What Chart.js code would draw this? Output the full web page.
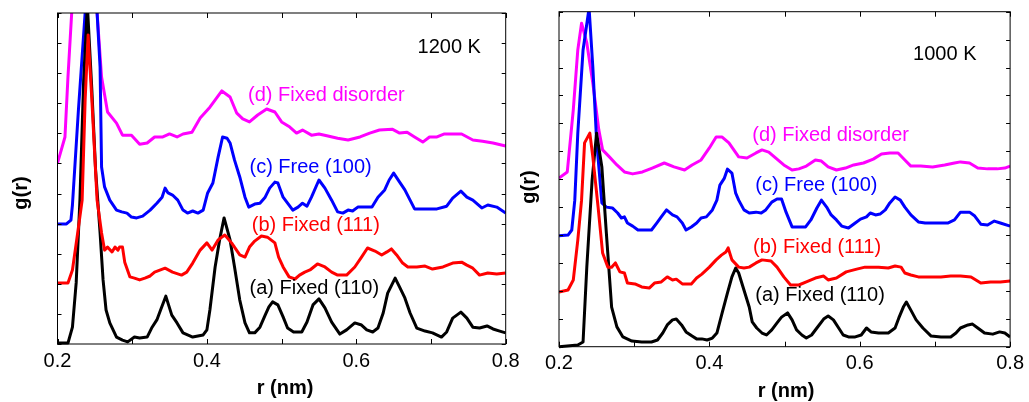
<!DOCTYPE html>
<html>
<head>
<meta charset="utf-8">
<script src="https://cdn.jsdelivr.net/npm/chart.js@4.4.1/dist/chart.umd.min.js"></script>
<style>
  html, body { margin: 0; padding: 0; background: #fff; }
  body { width: 1029px; height: 402px; position: relative; overflow: hidden; }
  .panel { position: absolute; top: 0; }
  #p1200 { left: 0; }
  #p1000 { left: 500px; }
</style>
</head>
<body>
<div class="panel" id="p1200"><canvas id="chart1200" width="530" height="402"></canvas></div>
<div class="panel" id="p1000"><canvas id="chart1000" width="529" height="402"></canvas></div>
<script>
// ---- 1200 K : r (nm) and offset g(r) for each curve ----
const r1200a = [0.200,0.214,0.220,0.225,0.230,0.235,0.240,0.246,0.251,0.257,0.261,0.265,0.270,0.279,0.287,0.294,0.303,0.310,0.320,0.326,0.333,0.338,0.345,0.353,0.360,0.368,0.381,0.395,0.400,0.404,0.411,0.417,0.423,0.431,0.437,0.444,0.451,0.457,0.464,0.471,0.478,0.483,0.488,0.495,0.502,0.508,0.516,0.527,0.534,0.542,0.550,0.558,0.567,0.578,0.587,0.598,0.607,0.614,0.622,0.629,0.636,0.642,0.652,0.658,0.665,0.672,0.681,0.692,0.702,0.714,0.721,0.729,0.740,0.748,0.756,0.765,0.775,0.783,0.792,0.800];
const g1200a = [0.03,0.03,0.56,2.03,4.78,8.77,11.26,8.44,5.78,3.69,2.13,1.13,0.70,0.23,0.13,0.07,0.23,0.20,0.23,0.53,0.80,1.13,1.59,0.96,0.70,0.37,0.23,0.30,0.47,1.13,2.56,3.46,4.19,3.46,2.56,1.46,0.70,0.37,0.37,0.56,0.96,1.23,1.40,1.30,0.90,0.53,0.40,0.40,0.73,1.30,1.50,1.20,0.73,0.33,0.47,0.70,0.63,0.47,0.40,0.53,1.03,1.69,2.19,1.89,1.53,1.03,0.53,0.43,0.37,0.23,0.40,0.86,1.06,0.86,0.56,0.53,0.60,0.50,0.43,0.37];

const r1200b = [0.200,0.214,0.220,0.227,0.233,0.237,0.241,0.246,0.253,0.259,0.263,0.267,0.273,0.277,0.281,0.283,0.287,0.290,0.297,0.303,0.310,0.317,0.324,0.330,0.344,0.354,0.366,0.373,0.381,0.391,0.400,0.407,0.415,0.424,0.433,0.444,0.451,0.457,0.464,0.473,0.481,0.491,0.496,0.502,0.510,0.518,0.524,0.531,0.538,0.548,0.558,0.567,0.575,0.587,0.598,0.607,0.615,0.625,0.634,0.641,0.647,0.654,0.662,0.669,0.681,0.692,0.702,0.716,0.729,0.741,0.748,0.756,0.765,0.776,0.788,0.800];
const g1200b = [2.03,2.03,2.46,3.69,4.78,8.11,10.27,8.11,4.78,3.69,3.12,3.22,3.06,3.22,3.12,3.22,3.22,2.72,2.23,2.19,2.13,2.19,2.26,2.39,2.52,2.39,2.29,2.39,2.69,3.12,3.36,3.12,3.46,3.62,3.36,2.96,2.89,3.22,3.42,3.59,3.55,3.36,2.89,2.56,2.23,2.16,2.29,2.39,2.46,2.66,2.56,2.39,2.29,2.29,2.56,2.89,3.19,3.09,2.96,3.06,3.16,2.96,2.69,2.56,2.56,2.59,2.49,2.56,2.69,2.72,2.62,2.52,2.29,2.36,2.33,2.36];

const r1200c = [0.200,0.212,0.218,0.220,0.228,0.237,0.245,0.253,0.257,0.259,0.263,0.270,0.279,0.286,0.293,0.299,0.306,0.314,0.324,0.333,0.340,0.344,0.348,0.354,0.361,0.368,0.374,0.381,0.388,0.395,0.401,0.408,0.415,0.421,0.427,0.431,0.437,0.444,0.451,0.456,0.464,0.471,0.478,0.484,0.491,0.495,0.502,0.508,0.515,0.522,0.528,0.534,0.540,0.550,0.558,0.567,0.575,0.582,0.589,0.595,0.602,0.611,0.621,0.629,0.638,0.644,0.650,0.658,0.665,0.672,0.678,0.698,0.708,0.721,0.729,0.740,0.748,0.756,0.768,0.776,0.788,0.800];
const g1200c = [3.99,3.99,4.12,4.62,7.77,11.0,14.09,11.0,9.20,5.88,5.22,4.78,4.45,4.39,4.35,4.22,4.19,4.25,4.45,4.68,4.88,5.18,5.02,4.95,4.78,4.45,4.35,4.42,4.35,4.45,5.02,5.35,6.21,6.88,6.84,6.68,6.11,5.55,4.88,4.55,4.65,4.68,4.88,5.18,5.38,5.35,4.88,4.68,4.45,4.55,4.68,4.58,4.88,5.45,5.18,4.78,4.39,4.35,4.45,4.42,4.55,4.55,4.55,4.88,5.12,5.45,5.68,5.38,5.12,4.78,4.49,4.49,4.49,4.58,4.85,5.08,4.88,4.78,4.52,4.62,4.55,4.35];

const r1200d = [0.200,0.210,0.214,0.219,0.237,0.253,0.259,0.267,0.279,0.287,0.299,0.310,0.320,0.330,0.341,0.350,0.360,0.368,0.380,0.391,0.404,0.420,0.431,0.440,0.448,0.457,0.468,0.480,0.491,0.500,0.511,0.520,0.528,0.540,0.550,0.562,0.575,0.589,0.605,0.618,0.631,0.648,0.658,0.668,0.678,0.689,0.698,0.708,0.718,0.729,0.741,0.756,0.769,0.783,0.800];
const g1200d = [6.01,6.88,8.87,11.0,16.41,11.0,8.87,7.71,7.34,6.94,6.94,6.64,6.68,6.88,6.88,6.98,6.88,6.98,7.04,7.51,7.87,8.41,8.21,7.67,7.48,7.38,7.61,7.81,7.71,7.38,7.21,7.01,7.11,6.94,6.98,6.91,6.84,6.78,6.88,7.01,7.11,7.14,7.01,7.04,6.88,6.71,6.88,6.88,6.98,6.98,6.98,6.78,6.74,6.68,6.58];

// ---- 1000 K ----
const r1000a = [0.200,0.225,0.232,0.237,0.244,0.250,0.257,0.263,0.270,0.277,0.285,0.297,0.310,0.323,0.331,0.338,0.344,0.351,0.356,0.363,0.369,0.377,0.383,0.390,0.397,0.404,0.410,0.417,0.424,0.430,0.435,0.439,0.446,0.453,0.457,0.463,0.470,0.476,0.483,0.490,0.496,0.504,0.510,0.516,0.523,0.529,0.536,0.543,0.552,0.558,0.565,0.572,0.578,0.585,0.594,0.602,0.609,0.615,0.625,0.638,0.647,0.652,0.658,0.662,0.668,0.675,0.684,0.695,0.708,0.721,0.728,0.734,0.744,0.750,0.757,0.766,0.777,0.786,0.793,0.800];
const g1000a = [0.00,0.06,0.17,2.86,5.96,7.65,6.44,4.07,1.42,0.71,0.35,0.20,0.17,0.17,0.24,0.49,0.78,0.96,0.99,0.78,0.53,0.38,0.28,0.28,0.24,0.31,0.49,1.21,1.92,2.50,2.82,2.64,2.03,1.42,0.89,0.67,0.49,0.42,0.60,0.85,1.06,1.21,0.96,0.60,0.42,0.31,0.42,0.67,0.99,1.10,0.96,0.67,0.42,0.35,0.35,0.42,0.67,0.53,0.49,0.49,0.67,1.03,1.42,1.60,1.31,0.96,0.67,0.38,0.35,0.35,0.49,0.67,0.78,0.81,0.67,0.49,0.45,0.53,0.49,0.35];

const r1000b = [0.200,0.212,0.219,0.225,0.230,0.234,0.241,0.245,0.252,0.258,0.265,0.270,0.275,0.281,0.287,0.291,0.301,0.310,0.320,0.327,0.336,0.344,0.351,0.356,0.364,0.376,0.383,0.390,0.400,0.409,0.416,0.422,0.425,0.430,0.439,0.446,0.453,0.462,0.470,0.482,0.490,0.499,0.508,0.519,0.529,0.541,0.552,0.558,0.569,0.582,0.596,0.607,0.615,0.625,0.638,0.647,0.655,0.660,0.668,0.678,0.695,0.708,0.721,0.734,0.748,0.761,0.774,0.787,0.800];
const g1000b = [1.96,2.03,2.39,3.82,5.25,7.30,7.65,6.80,5.00,3.36,2.85,2.85,3.00,2.68,2.64,2.28,2.25,2.14,2.10,2.28,2.32,2.50,2.39,2.42,2.25,2.25,2.46,2.60,2.85,3.11,3.28,3.39,3.54,3.11,2.85,2.82,2.85,3.00,3.11,3.07,2.85,2.50,2.21,2.21,2.32,2.46,2.53,2.39,2.46,2.68,2.78,2.85,2.85,2.85,2.82,2.89,2.85,2.64,2.57,2.50,2.50,2.50,2.53,2.53,2.50,2.28,2.32,2.32,2.35];

const r1000c = [0.200,0.212,0.217,0.221,0.225,0.232,0.240,0.245,0.250,0.257,0.263,0.271,0.278,0.283,0.287,0.291,0.298,0.305,0.314,0.323,0.330,0.336,0.343,0.351,0.357,0.364,0.369,0.376,0.383,0.389,0.396,0.404,0.410,0.414,0.420,0.424,0.430,0.435,0.439,0.446,0.453,0.462,0.469,0.475,0.483,0.490,0.496,0.502,0.510,0.519,0.528,0.535,0.543,0.549,0.556,0.562,0.569,0.576,0.585,0.594,0.601,0.609,0.614,0.621,0.627,0.634,0.640,0.647,0.654,0.660,0.668,0.678,0.687,0.704,0.717,0.726,0.734,0.746,0.753,0.761,0.770,0.779,0.787,0.800];
const g1000c = [3.97,4.00,4.18,5.25,7.65,10.63,12.13,10.02,7.40,5.15,5.00,4.97,4.79,4.61,4.65,4.43,4.32,4.18,4.18,4.18,4.43,4.65,4.90,4.72,4.65,4.43,4.18,4.29,4.43,4.61,4.65,4.90,5.25,5.79,6.04,6.36,6.22,5.50,5.25,4.90,4.79,4.82,4.79,4.90,5.18,5.29,5.29,4.82,4.29,4.29,4.29,4.54,4.97,5.25,5.00,4.72,4.54,4.32,4.25,4.43,4.57,4.65,4.79,4.72,4.75,4.90,5.15,5.36,5.25,5.00,4.72,4.47,4.43,4.43,4.43,4.54,4.82,4.82,4.68,4.39,4.36,4.50,4.43,4.32];

const r1000d = [0.200,0.211,0.219,0.225,0.230,0.237,0.245,0.253,0.258,0.267,0.277,0.287,0.298,0.311,0.324,0.340,0.353,0.367,0.377,0.389,0.400,0.409,0.417,0.426,0.439,0.450,0.462,0.470,0.479,0.488,0.499,0.510,0.519,0.529,0.541,0.549,0.558,0.569,0.581,0.592,0.605,0.618,0.629,0.640,0.651,0.660,0.668,0.681,0.697,0.713,0.726,0.734,0.746,0.757,0.770,0.783,0.793,0.800];
const g1000d = [6.04,6.26,8.48,10.63,11.59,10.88,9.44,7.76,7.05,6.80,6.51,6.26,6.19,6.26,6.40,6.58,6.44,6.33,6.51,6.69,7.12,7.51,7.51,7.30,6.80,6.76,6.94,7.05,6.97,6.76,6.51,6.33,6.37,6.47,6.69,6.65,6.44,6.33,6.40,6.51,6.58,6.72,6.90,6.94,6.94,6.69,6.47,6.47,6.44,6.51,6.58,6.62,6.58,6.40,6.37,6.37,6.40,6.47];

const rTicks = { min: 0.2, max: 0.8, step: 0.1 };

const labels = {
  a: '(a) Fixed (110)',
  b: '(b) Fixed (111)',
  c: 'Free (100)',
  d: '(d) Fixed disorder'
};
const colors = { a: '#000000', b: '#ff0000', c: '#0000ff', d: '#ff00ff' };

const FONT = '"Liberation Sans", Arial, Helvetica, sans-serif';

const pts = (rs, gs) => rs.map((r, i) => ({ x: r, y: gs[i] }));

// frame, inward ticks, curve labels and axis titles
const panelDecor = {
  id: 'panelDecor',
  afterDatasetsDraw(chart, args, opts) {
    const { ctx, chartArea: area, scales } = chart;
    const xs = scales.x, ys = scales.y;
    ctx.save();
    ctx.strokeStyle = '#000';
    ctx.lineWidth = 1;
    ctx.strokeRect(area.left, area.top, area.right - area.left, area.bottom - area.top);
    ctx.beginPath();
    xs.ticks.forEach(t => {
      const px = Math.round(xs.getPixelForValue(t.value)) + 0.5;
      ctx.moveTo(px, area.bottom); ctx.lineTo(px, area.bottom - 5);
      ctx.moveTo(px, area.top); ctx.lineTo(px, area.top + 5);
    });
    ys.ticks.forEach(t => {
      const py = Math.round(ys.getPixelForValue(t.value)) + 0.5;
      ctx.moveTo(area.left, py); ctx.lineTo(area.left + 4, py);
      ctx.moveTo(area.right, py); ctx.lineTo(area.right - 4, py);
    });
    ctx.stroke();

    ctx.font = '20px ' + FONT;
    ctx.textAlign = 'left';
    ctx.textBaseline = 'middle';
    opts.notes.forEach(n => {
      ctx.fillStyle = n.color;
      ctx.fillText(n.text, xs.getPixelForValue(n.r), ys.getPixelForValue(n.g));
    });

    ctx.fillStyle = '#000';
    ctx.font = 'bold 20px ' + FONT;
    ctx.textAlign = 'center';
    ctx.fillText('r (nm)', opts.xTitle[0], opts.xTitle[1]);
    ctx.translate(opts.yTitle[0], opts.yTitle[1]);
    ctx.rotate(-Math.PI / 2);
    ctx.fillText('g(r)', 0, 0);
    ctx.restore();
  }
};

function makePanel(id, series, gMax, box, notes, xTitle, yTitle) {
  const order = ['b', 'a', 'c', 'd'];
  return new Chart(document.getElementById(id), {
    type: 'line',
    data: {
      datasets: order.map(k => ({
        label: labels[k],
        data: pts(series[k][0], series[k][1]),
        borderColor: colors[k],
        borderWidth: 3,
        borderJoinStyle: 'round',
        pointRadius: 0,
        tension: 0,
        fill: false,
        clip: { left: 0, top: 0, right: 0, bottom: 3 }
      }))
    },
    options: {
      responsive: false,
      animation: false,
      events: [],
      layout: { padding: { top: box.top, right: box.right, bottom: 0, left: 0 } },
      plugins: {
        legend: { display: false },
        tooltip: { enabled: false },
        panelDecor: { notes, xTitle, yTitle }
      },
      scales: {
        x: {
          type: 'linear',
          min: rTicks.min,
          max: rTicks.max,
          grid: { display: false, drawTicks: false },
          border: { display: false },
          ticks: {
            stepSize: rTicks.step,
            autoSkip: false,
            maxRotation: 0,
            padding: 5,
            color: '#000',
            font: { family: FONT, size: 20 },
            callback: v => (Math.round(v * 10) % 2 === 0 ? v.toFixed(1) : '')
          },
          afterFit: s => { s.height = box.xHeight; }
        },
        y: {
          type: 'linear',
          min: 0,
          max: gMax,
          grid: { display: false, drawTicks: false },
          border: { display: false },
          ticks: { display: false, stepSize: 1 },
          afterFit: s => { s.width = box.yWidth; }
        }
      }
    },
    plugins: [panelDecor]
  });
}

makePanel('chart1200',
  { a: [r1200a, g1200a], b: [r1200b, g1200b], c: [r1200c, g1200c], d: [r1200d, g1200d] },
  11,
  { top: 13, right: 24.3, xHeight: 58, yWidth: 57.5 },
  [
    { text: '1200 K', r: 0.682, g: 9.85, color: '#000' },
    { text: labels.d, r: 0.455, g: 8.27, color: colors.d },
    { text: '(c) ' + labels.c, r: 0.457, g: 5.85, color: colors.c },
    { text: labels.b, r: 0.460, g: 3.95, color: colors.b },
    { text: labels.a, r: 0.457, g: 1.83, color: colors.a }
  ],
  [285, 388], [21.5, 193]);

makePanel('chart1000',
  { a: [r1000a, g1000a], b: [r1000b, g1000b], c: [r1000c, g1000c], d: [r1000d, g1000d] },
  12,
  { top: 11.7, right: 16.3, xHeight: 55.3, yWidth: 59 },
  [
    { text: '1000 K', r: 0.671, g: 10.45, color: '#000' },
    { text: labels.d, r: 0.457, g: 7.58, color: colors.d },
    { text: '(c) ' + labels.c, r: 0.461, g: 5.79, color: colors.c },
    { text: labels.b, r: 0.458, g: 3.54, color: colors.b },
    { text: labels.a, r: 0.461, g: 1.82, color: colors.a }
  ],
  [286, 391], [29, 187]);
</script>
</body>
</html>
